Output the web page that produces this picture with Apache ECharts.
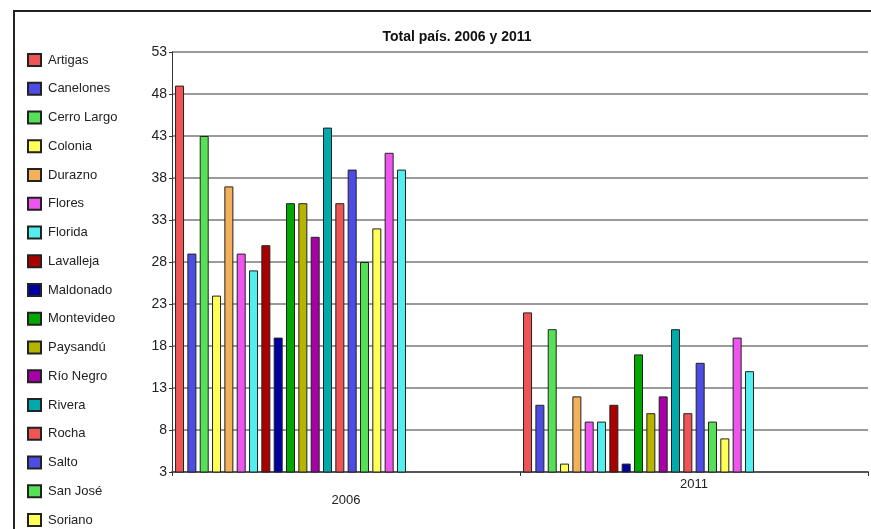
<!DOCTYPE html>
<html>
<head>
<meta charset="utf-8">
<script src="https://cdn.jsdelivr.net/npm/echarts@6/dist/echarts.min.js"></script>
<style>
  html, body { margin: 0; padding: 0; background: #fff; }
  #main { width: 871px; height: 529px; }
</style>
</head>
<body>
<div id="main"></div>
<script>
// graficos por departamento
var chart = echarts.init(document.getElementById('main'));

const years = ['2006', '2011'];
const deptos = ['Artigas', 'Canelones', 'Cerro Largo', 'Colonia', 'Durazno', 'Flores', 'Florida',
    'Lavalleja', 'Maldonado', 'Montevideo', 'Paysandú', 'Río Negro', 'Rivera', 'Rocha', 'Salto',
    'San José', 'Soriano', 'Tacuarembó', 'Treinta y Tres'];
const vals2006 = [49, 29, 43, 24, 37, 29, 27, 30, 19, 35, 35, 31, 44, 35, 39, 28, 32, 41, 39];
const vals2011 = [22, 11, 20, 4, 12, 9, 9, 11, 4, 17, 10, 12, 20, 10, 16, 9, 7, 19, 15];
const yTicks = [3, 8, 13, 18, 23, 28, 33, 38, 43, 48, 53];

const colores = ['#ee5555', '#4d4de6', '#55e055', '#ffff55', '#f5b05a', '#ee55ee', '#55eeee',
    '#aa0000', '#0000a0', '#00a800', '#b5b500', '#a800a8', '#00aaaa',
    '#ee5555', '#4d4de6', '#55e055', '#ffff55', '#ee55ee', '#55eeee'];

var series = deptos.map(function (d, i) {
    return {
        name: d,
        type: 'bar',
        barWidth: 9,
        barGap: '37%',
        data: [vals2006[i], vals2011[i]],
        itemStyle: {
            color: colores[i],
            borderColor: '#222',
            borderWidth: 1
        }
    };
});
// huecos vacios para que las barras queden a la izquierda de cada año
for (var k = 0; k < 9; k++) {
    series.push({ name: 'hueco' + k, type: 'bar', barWidth: 9, barGap: '37%', data: [null, null] });
}

var option = {
    backgroundColor: '#fff',
    animation: false,
    title: {
        text: 'Total país. 2006 y 2011',
        left: 452,
        textAlign: 'center',
        top: 25,
        textStyle: { fontFamily: 'Liberation Sans', fontSize: 14, fontWeight: 'bold', color: '#111' }
    },
    graphic: [{
        type: 'rect',
        shape: { x: 14, y: 11, width: 880, height: 540 },
        style: { fill: 'none', stroke: '#222', lineWidth: 2 },
        silent: true
    }],
    legend: {
        data: deptos,
        orient: 'vertical',
        left: 27,
        top: 53,
        height: 1000,
        padding: 0,
        itemWidth: 13,
        itemHeight: 12,
        itemGap: 14.75,
        icon: 'rect',
        textStyle: { fontFamily: 'Liberation Sans', fontSize: 13, lineHeight: 13, color: '#222', padding: [0, 0, 0, 2] }
    },
    grid: {
        left: 172,
        right: 3,
        top: 52,
        bottom: 57,
        containLabel: false
    },
    xAxis: {
        type: 'category',
        data: [
            { value: years[0], textStyle: { padding: [16, 0, 0, 0] } },
            { value: years[1] }
        ],
        axisLine: { lineStyle: { color: '#555', width: 2 } },
        axisTick: { show: true, length: 4, lineStyle: { color: '#333' } },
        axisLabel: { fontFamily: 'Liberation Sans', fontSize: 13, color: '#222', margin: 6 },
        splitLine: { show: false }
    },
    yAxis: {
        type: 'value',
        min: yTicks[0],
        max: yTicks[yTicks.length - 1],
        interval: 5,
        axisLine: { show: true, lineStyle: { color: '#333', width: 1 } },
        axisTick: { show: true, length: 3, lineStyle: { color: '#333' } },
        axisLabel: { fontFamily: 'Liberation Sans', fontSize: 14, color: '#222', margin: 5 },
        splitLine: { lineStyle: { color: '#9a9a9a', width: 2 } }
    },
    series: series
};

chart.setOption(option);

window.addEventListener('resize', function () {
    chart.resize();
});
</script>
</body>
</html>
